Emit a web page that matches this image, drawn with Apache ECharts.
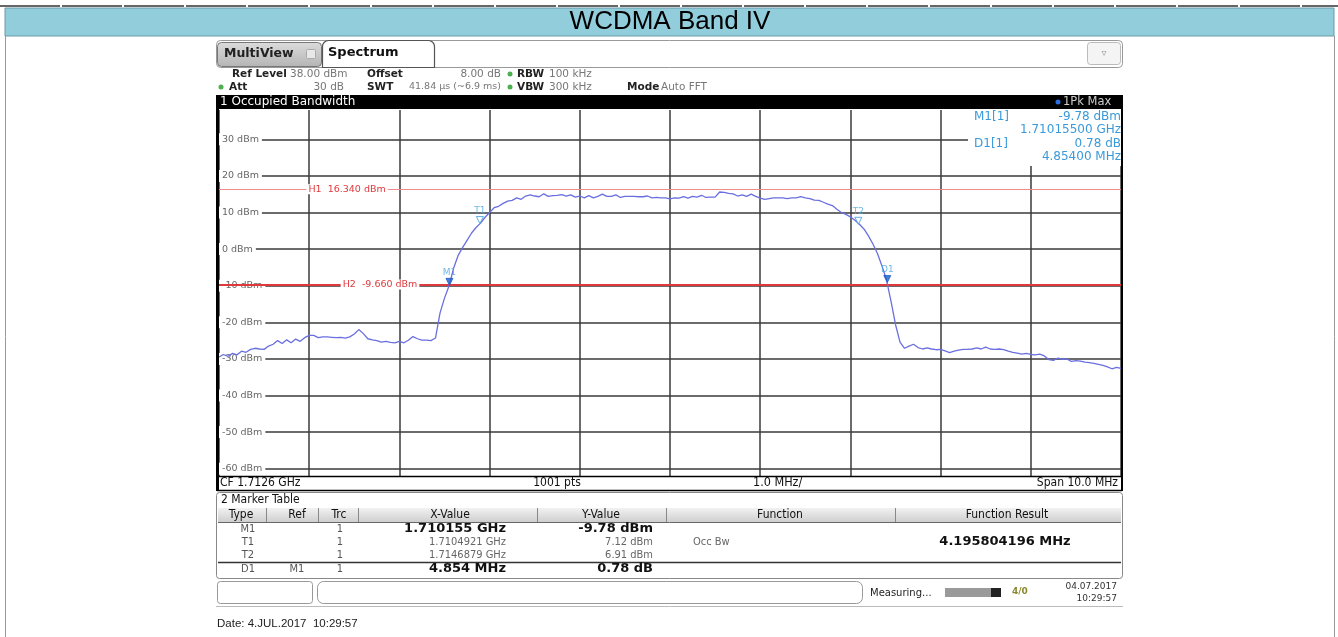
<!DOCTYPE html>
<html>
<head>
<meta charset="utf-8">
<script src="https://cdn.jsdelivr.net/npm/echarts@6/dist/echarts.min.js"></script>
<style>
html, body { margin: 0; padding: 0; background: #fff; }
#main { width: 1338px; height: 637px; }
</style>
</head>
<body>
<div id="main"></div>
<script>
// sweep: offset from CF 1.7126 GHz, in MHz
var startOffsetMHz = -5;
var stepMHz = 0.05;
// trace levels (dBm), one per 0.05 MHz
var levels = [
	-29.5,-28.8,-29.3,-28.5,-28.9,-27.9,-28.2,-27.4,-27.1,-27.3,
	-27.4,-26.5,-26.0,-25.0,-25.8,-24.8,-25.6,-24.6,-25.2,-24.2,
	-23.6,-23.6,-24.2,-24.0,-24.0,-24.1,-24.2,-24.1,-24.3,-24.0,
	-23.2,-22.0,-23.1,-24.5,-24.8,-25.0,-25.4,-25.2,-25.5,-25.6,
	-25.2,-25.6,-24.9,-23.9,-24.5,-24.9,-24.9,-25.0,-24.3,-17.5,
	-13.4,-10.1,-5.3,-1.8,0.4,2.4,4.4,5.9,7.1,8.7,
	10.0,11.3,11.7,12.5,13.1,13.3,14.0,13.6,14.5,14.8,
	14.5,14.3,15.1,14.4,14.6,14.7,14.9,14.5,14.8,14.2,
	14.5,14.0,14.6,14.0,14.4,15.0,14.4,14.4,14.8,14.1,
	14.4,14.4,14.4,14.3,14.3,14.5,14.0,14.1,14.0,14.0,
	13.7,14.0,13.9,14.3,13.9,14.4,14.2,14.7,14.1,14.2,
	14.2,15.6,15.5,15.2,15.1,14.5,14.8,14.4,15.0,14.4,
	13.9,13.6,13.8,14.0,14.0,14.0,13.8,14.0,14.0,14.3,
	14.0,13.8,13.4,13.3,12.8,12.3,11.9,10.9,10.0,9.5,
	8.8,7.9,6.8,5.5,3.6,1.4,-1.2,-4.6,-8.4,-14.2,
	-20.6,-25.4,-27.1,-26.5,-26.0,-26.9,-27.3,-27.0,-27.3,-27.5,
	-27.4,-27.8,-28.3,-27.9,-27.6,-27.4,-27.4,-27.3,-27.0,-27.3,
	-26.8,-27.3,-27.4,-27.3,-27.5,-27.9,-28.2,-28.4,-28.7,-28.5,
	-28.8,-28.9,-28.7,-29.2,-30.2,-30.4,-29.8,-30.1,-30.0,-30.7,
	-30.5,-30.6,-30.9,-31.0,-31.2,-31.5,-31.8,-32.2,-32.7,-32.3,
	-32.6
];

var markerNames = ['M1', 'T1', 'T2', 'D1'];
var markerOffsetMHz = [-2.445, -2.1079, 2.0879, 2.409];
var markerLevels = [-9.78, 7.12, 6.91, -9.00];

var lineNames = ['H1  16.340 dBm', 'H2  -9.660 dBm'];
var lineLevels = [16.34, -9.66];

// marker table
var tabType = ['M1', 'T1', 'T2', 'D1'];
var tabRef = ['', '', '', 'M1'];
var tabTrc = ['1', '1', '1', '1'];
var tabX = ['1.710155 GHz', '1.7104921 GHz', '1.7146879 GHz', '4.854 MHz'];
var tabY = ['-9.78 dBm', '7.12 dBm', '6.91 dBm', '0.78 dB'];
var tabFunc = ['', 'Occ Bw', '', ''];
var tabResult = ['', '4.195804196 MHz', '', ''];

var trace = [];
for (var i = 0; i < levels.length; i++) {
	trace.push([+(startOffsetMHz + i * stepMHz).toFixed(2), levels[i]]);
}
var markers = [];
for (var k = 0; k < markerNames.length; k++) {
	var filled = markerNames[k] == 'M1' || markerNames[k] == 'D1';
	markers.push({
		name: markerNames[k],
		value: [markerOffsetMHz[k], markerLevels[k]],
		itemStyle: {
			color: filled ? '#1f5fc8' : '#fff',
			borderColor: filled ? '#1f5fc8' : '#3a9ad9',
			borderWidth: 1
		}
	});
}

var F = '"DejaVu Sans", Verdana, sans-serif';
var N = '"Liberation Sans Narrow", "DejaVu Sans Condensed", "Liberation Sans", sans-serif';
var g = [];
function txt(x, y, s, font, fill, align, z) {
	g.push({
		type: 'text', x: x, y: y, z: z || 20,
		style: { text: s, font: font, fill: fill, textAlign: align || 'left', textVerticalAlign: 'middle', verticalAlign: 'middle' }
	});
}
function box(x, y, w, h, fill, stroke, lw, r, z) {
	g.push({
		type: 'rect', z: z || 15,
		shape: { x: x, y: y, width: w, height: h, r: r || 0 },
		style: { fill: fill || 'none', stroke: stroke || null, lineWidth: lw || 1 }
	});
}
function line(x1, y1, x2, y2, color, lw, z, dash) {
	g.push({
		type: 'line', z: z || 16,
		shape: { x1: x1, y1: y1, x2: x2, y2: y2 },
		style: { stroke: color, lineWidth: lw || 1, lineDash: dash || null }
	});
}

// page title band
line(0, 6, 1338, 6, '#666', 2, 16, [60, 2]);
box(5, 8, 1329, 28, '#92cddc', '#6a9aa6', 1);
txt(670, 22, 'WCDMA Band IV', '26px "Liberation Sans", Arial, sans-serif', '#000', 'center');
line(5.5, 36, 5.5, 637, '#999', 1);
line(1334.5, 36, 1334.5, 637, '#999', 1);

// tabs
box(216.5, 40.5, 906, 27, '#fff', '#999', 1, 4);
box(1087.5, 42.5, 33, 22, '#f4f4f4', '#bbb', 1, 3);
txt(1104, 53, '\u25BF', '10px ' + F, '#999', 'center');
g.push({
	type: 'rect', z: 16,
	shape: { x: 217.5, y: 42.5, width: 104, height: 24, r: 4 },
	style: {
		fill: new echarts.graphic.LinearGradient(0, 0, 0, 1, [{ offset: 0, color: '#dcdcdc' }, { offset: 1, color: '#b4b4b4' }]),
		stroke: '#777', lineWidth: 1
	}
});
txt(224, 54, 'MultiView', 'bold 12.5px ' + F, '#222');
box(306.5, 49.5, 9, 9, '#e8e8e8', '#aaa', 1, 1, 17);
box(322.5, 40.5, 112, 27, '#fff', '#555', 1.2, [6, 6, 0, 0], 16);
txt(328, 53, 'Spectrum', 'bold 13px ' + F, '#111');

// header settings
var hb = 'bold 10.5px ' + F, hv = '10.5px ' + F;
txt(232, 74, 'Ref Level', hb, '#222');
txt(290, 74, '38.00 dBm', hv, '#777');
txt(367, 74, 'Offset', hb, '#222');
txt(501, 74, '8.00 dB', hv, '#777', 'right');
txt(517, 74, 'RBW', hb, '#222');
txt(549, 74, '100 kHz', hv, '#777');
txt(344, 87, '30 dB', hv, '#777', 'right');
txt(229, 87, 'Att', hb, '#222');
txt(367, 87, 'SWT', hb, '#222');
txt(409, 87, '41.84 \u00B5s (~6.9 ms)', '9.5px ' + F, '#777');
txt(517, 87, 'VBW', hb, '#222');
txt(549, 87, '300 kHz', hv, '#777');
txt(627, 87, 'Mode', hb, '#222');
txt(661, 87, 'Auto FFT', hv, '#777');
[[221, 87], [510, 74], [510, 87]].forEach(function (p) {
	g.push({ type: 'circle', z: 18, shape: { cx: p[0], cy: p[1], r: 2.5 }, style: { fill: '#4caf50' } });
});

// black title bar of the window
box(216, 95, 907, 14, '#000', null, 1, 0, 15);
txt(220, 102, '1 Occupied Bandwidth', '12px ' + F, '#fff');
g.push({ type: 'circle', z: 18, shape: { cx: 1058, cy: 102, r: 2.5 }, style: { fill: '#2a6fe0' } });
txt(1063, 102, '1Pk Max', '11.5px ' + F, '#ccc');

// frame of the diagram
box(216, 95, 3, 396, '#000', null, 1, 0, 15);
box(1121, 95, 2, 396, '#000', null, 1, 0, 15);
line(217, 476.5, 1122, 476.5, '#000', 1.5);
line(217, 490.5, 1122, 490.5, '#000', 1.5);

// marker readout box
box(968, 109, 153, 57, '#fff', null, 1, 0, 12);
var mb = '12px ' + F, mc = '#3a9ad9';
txt(974, 117, 'M1[1]', mb, mc);
txt(1121, 117, '-9.78 dBm', mb, mc, 'right');
txt(1121, 130, '1.71015500 GHz', mb, mc, 'right');
txt(974, 144, 'D1[1]', mb, mc);
txt(1121, 144, '0.78 dB', mb, mc, 'right');
txt(1121, 157, '4.85400 MHz', mb, mc, 'right');

// scale footer
var nf = '12px ' + N;
txt(220, 483, 'CF 1.7126 GHz', nf, '#111');
txt(557, 483, '1001 pts', nf, '#111', 'center');
txt(753, 483, '1.0 MHz/', '12.5px ' + N, '#111');
txt(1118, 483, 'Span 10.0 MHz', nf, '#111', 'right');

// marker table
box(216.5, 492.5, 906, 86, '#fff', '#888', 1, 3, 14);
txt(221, 500, '2 Marker Table', nf, '#111');
g.push({
	type: 'rect', z: 15,
	shape: { x: 218, y: 508, width: 903, height: 14 },
	style: { fill: new echarts.graphic.LinearGradient(0, 0, 0, 1, [{ offset: 0, color: '#f2f2f2' }, { offset: 1, color: '#cfcfcf' }]) }
});
line(218, 522.5, 1121, 522.5, '#666', 1);
[266, 318, 358, 537, 666, 895].forEach(function (x) { line(x + 0.5, 508, x + 0.5, 522, '#888', 1); });
txt(241, 515, 'Type', nf, '#111', 'center');
txt(297, 515, 'Ref', nf, '#111', 'center');
txt(339, 515, 'Trc', nf, '#111', 'center');
txt(450, 515, 'X-Value', nf, '#111', 'center');
txt(601, 515, 'Y-Value', nf, '#111', 'center');
txt(780, 515, 'Function', nf, '#111', 'center');
txt(1007, 515, 'Function Result', nf, '#111', 'center');
var rowY = [529, 542, 555, 569];
for (var r = 0; r < tabType.length; r++) {
	var big = r == 0 || r == 3;
	var vf = big ? 'bold 13px ' + F : '11px ' + N;
	var vc = big ? '#111' : '#666';
	txt(248, rowY[r], tabType[r], '11px ' + N, '#555', 'center');
	txt(297, rowY[r], tabRef[r], '11px ' + N, '#555', 'center');
	txt(340, rowY[r], tabTrc[r], '11px ' + N, '#555', 'center');
	txt(506, rowY[r], tabX[r], vf, vc, 'right');
	txt(653, rowY[r], tabY[r], vf, vc, 'right');
	txt(693, rowY[r], tabFunc[r], '11px ' + N, '#666');
	txt(1005, rowY[r], tabResult[r], 'bold 13px ' + F, '#111', 'center');
}
line(218, 562.5, 1121, 562.5, '#333', 1.5);

// status bar
box(217.5, 581.5, 95, 22, '#fff', '#999', 1, 3);
box(317.5, 581.5, 545, 22, '#fff', '#999', 1, 6);
line(216, 606.5, 1123, 606.5, '#bbb', 1);
txt(870, 593, 'Measuring...', '10px ' + F, '#222');
box(945, 588, 46, 9, '#9a9a9a', null, 1, 0, 16);
box(991, 588, 10, 9, '#222', null, 1, 0, 16);
txt(1012, 592, '4/0', 'bold 9px ' + F, '#8a8a30');
txt(1117, 587, '04.07.2017', '9px ' + F, '#333', 'right');
txt(1117, 599, '10:29:57', '9px ' + F, '#333', 'right');

txt(217, 624, 'Date: 4.JUL.2017  10:29:57', '11.5px "Liberation Sans", Arial, sans-serif', '#222');

var gridColor = '#3a3a3a';
var option = {
	backgroundColor: '#fff',
	animation: false,
	grid: [
		{ left: 219, top: 110, width: 902, height: 366 },
		{ left: 219, top: 139.28, width: 902, height: 329.4 }
	],
	xAxis: [
		{
			type: 'value', gridIndex: 0, min: -5, max: 5, interval: 1,
			axisLine: { show: false }, axisTick: { show: false }, axisLabel: { show: false },
			splitLine: { show: true, lineStyle: { color: gridColor, width: 1.5 } }
		},
		{ type: 'value', gridIndex: 1, min: -5, max: 5, show: false }
	],
	yAxis: [
		{ type: 'value', gridIndex: 0, min: -62, max: 38, show: false },
		{
			type: 'value', gridIndex: 1, min: -60, max: 30, interval: 10,
			axisLine: { show: false }, axisTick: { show: false },
			axisLabel: {
				inside: true, margin: -6, formatter: '{value} dBm',
				color: '#666', fontSize: 9.5, fontFamily: 'DejaVu Sans',
				backgroundColor: '#fff', padding: [1, 3, 1, 9]
			},
			splitLine: { show: true, lineStyle: { color: gridColor, width: 1.5 } }
		}
	],
	series: [
		{
			type: 'line', xAxisIndex: 0, yAxisIndex: 0,
			data: trace, showSymbol: false, z: 5,
			lineStyle: { color: '#6a6fe0', width: 1.3 },
			markLine: {
				silent: true, symbol: 'none', z: 4,
				label: { show: false },
				data: [
					{ yAxis: lineLevels[0], lineStyle: { color: '#f28c8c', width: 1, type: 'solid' } },
					{ yAxis: lineLevels[1], lineStyle: { color: '#e0393c', width: 2, type: 'solid' } }
				]
			},
			markPoint: {
				silent: true, symbolSize: 0,
				label: {
					show: true, position: 'inside', formatter: '{b}',
					color: '#e0393c', fontSize: 9.5, fontFamily: 'DejaVu Sans',
					backgroundColor: '#fff', padding: [0, 2]
				},
				data: [
					{ name: lineNames[0], coord: [-3.58, lineLevels[0]] },
					{ name: lineNames[1], coord: [-3.215, lineLevels[1]] }
				]
			}
		},
		{
			type: 'scatter', xAxisIndex: 0, yAxisIndex: 0, z: 6,
			data: markers,
			symbol: 'triangle', symbolRotate: 180, symbolSize: 7, symbolOffset: [0, -3],
			label: {
				show: true, position: 'top', distance: 1, formatter: '{b}',
				color: '#4aa8e0', fontSize: 9, fontFamily: 'DejaVu Sans'
			}
		}
	],
	graphic: g
};

var myChart = echarts.init(document.getElementById('main'));
myChart.setOption(option);
</script>
</body>
</html>
